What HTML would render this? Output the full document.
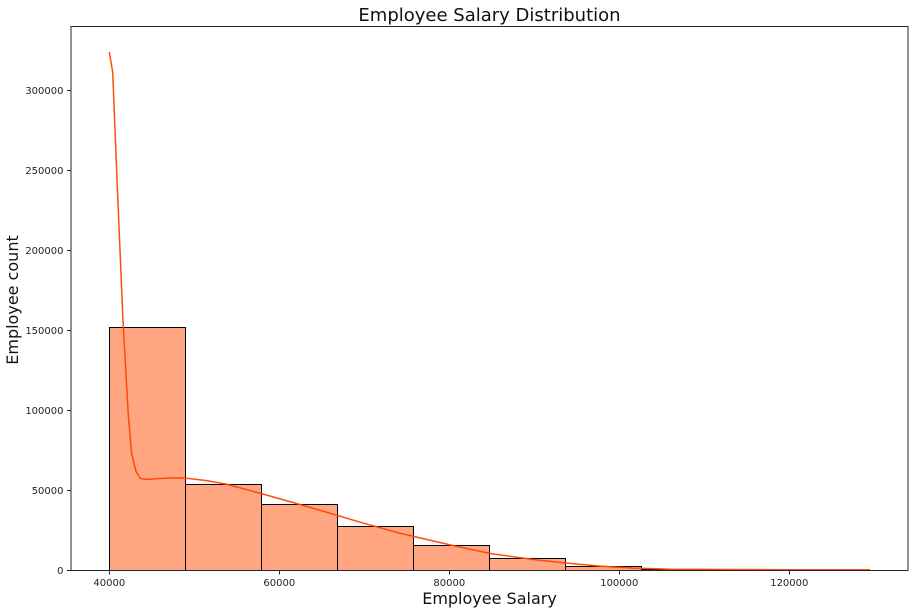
<!DOCTYPE html>
<html>
<head>
<meta charset="utf-8">
<style>
html,body{margin:0;padding:0;background:#fff;}
svg{display:block;font-family:"DejaVu Sans","Liberation Sans",sans-serif;}
</style>
</head>
<body>
<svg id="chart" width="915" height="613" viewBox="0 0 915 613" xmlns="http://www.w3.org/2000/svg">
  <rect x="0" y="0" width="915" height="613" fill="#ffffff"/>
  <g id="bars"></g>
  <polyline id="kde" fill="none" stroke="#ff4500" stroke-opacity="0.95" stroke-width="1.5" stroke-linejoin="round"/>
  <g id="xticks"></g>
  <g id="yticks"></g>
  <rect x="71" y="26.5" width="837" height="544" fill="none" stroke="#262626" stroke-width="1"/>
  <text x="489.5" y="21" text-anchor="middle" font-size="18" fill="#111">Employee Salary Distribution</text>
  <text x="489.5" y="604" text-anchor="middle" font-size="16" fill="#111">Employee Salary</text>
  <text transform="translate(18,300) rotate(-90)" text-anchor="middle" font-size="16" fill="#111">Employee count</text>
</svg>
<script>
const binStart = 40000;
const binWidth = 8950;
const binCounts = [151900, 53800, 41300, 27300, 15400, 7600, 2300, 900, 200, 60];
const xTickValues = [40000, 60000, 80000, 100000, 120000];
const yTickValues = [0, 50000, 100000, 150000, 200000, 250000, 300000];
const kdeSalaries = [40000, 40400, 40920, 41260, 41610, 42235, 42635, 43105, 43610, 44200, 45965, 47930, 48940, 51460, 53810, 57730, 61610, 65580, 69500, 74200, 80080, 84790, 89850, 93810, 97730, 101610, 106000, 112000, 120000, 129500];
const kdeCounts = [324000, 311500, 243000, 200000, 156000, 97000, 73000, 62500, 57700, 56900, 57500, 58000, 57700, 56200, 53900, 48300, 42500, 36400, 30200, 23300, 16000, 10600, 6900, 4600, 2700, 1500, 800, 600, 500, 450];

const NS = 'http://www.w3.org/2000/svg';
function xScale(v) { return 109.3 + (v - 40000) * 0.0085; }
function yScale(v) { return 570.5 - v * 0.0016; }
function snap(p) { return Math.floor(p + 0.1) + 0.5; }
function make(tag, props, parent) {
  const el = document.createElementNS(NS, tag);
  for (const k in props) el.setAttribute(k, props[k]);
  parent.appendChild(el);
  return el;
}

const barsGroup = document.getElementById('bars');
binCounts.forEach(function (count, i) {
  const x0 = snap(xScale(binStart + i * binWidth));
  const x1 = snap(xScale(binStart + (i + 1) * binWidth));
  const y = snap(yScale(count));
  const el = make('rect', {
    x: x0, y: y, width: x1 - x0, height: Math.max(0, 570.5 - y),
    fill: '#ffa582', stroke: '#000000', 'stroke-width': 1
  }, barsGroup);
  
  
});

const kdeLine = document.getElementById('kde');
kdeLine.setAttribute('points', kdeSalaries.map(function (s, i) {
  return xScale(s).toFixed(2) + ',' + yScale(kdeCounts[i]).toFixed(2);
}).join(' '));

const xTicks = document.getElementById('xticks');
xTickValues.forEach(function (v) {
  const x = Math.round(xScale(v)) + 0.5;
  const mark = make('line', { x1: x, x2: x, y1: 570.5, y2: 574.5, stroke: '#262626', 'stroke-width': 1 }, xTicks);
  
  
  const label = make('text', { x: xScale(v), y: 586, 'text-anchor': 'middle', 'font-size': 10, fill: '#262626' }, xTicks);
  
  
  label.textContent = String(v);
});

const yTicks = document.getElementById('yticks');
yTickValues.forEach(function (v) {
  const y = Math.round(yScale(v) - 0.5) + 0.5;
  const mark = make('line', { x1: 67, x2: 71, y1: y, y2: y, stroke: '#262626', 'stroke-width': 1 }, yTicks);
  
  
  const label = make('text', { x: 63.5, y: y + 3.5, 'text-anchor': 'end', 'font-size': 10, fill: '#262626' }, yTicks);
  
  
  label.textContent = String(v);
});
</script>
</body>
</html>
